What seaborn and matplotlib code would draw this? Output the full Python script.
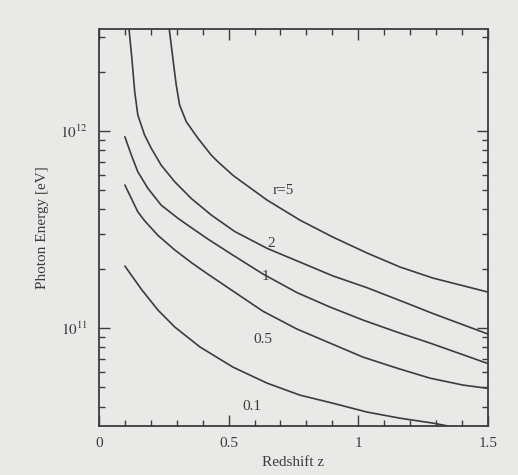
import numpy as np
import pandas as pd
import matplotlib
matplotlib.use("Agg")
import matplotlib.pyplot as plt
import seaborn as sns
from matplotlib.ticker import LogLocator, MultipleLocator, FixedLocator, NullFormatter

# valores (z, log10 da energia em eV)
z_r5 = [0.27, 0.285, 0.298, 0.311, 0.337, 0.382, 0.433, 0.459, 0.517, 0.648, 0.775, 0.902, 1.034, 1.161, 1.288, 1.5]
logE_r5 = [12.53, 12.369, 12.234, 12.132, 12.047, 11.963, 11.878, 11.844, 11.775, 11.65, 11.548, 11.462, 11.381, 11.31, 11.254, 11.183]

z_r2 = [0.115, 0.127, 0.138, 0.15, 0.176, 0.202, 0.24, 0.292, 0.356, 0.433, 0.524, 0.648, 0.775, 0.902, 1.034, 1.161, 1.288, 1.5]
logE_r2 = [12.53, 12.369, 12.199, 12.081, 11.98, 11.912, 11.827, 11.743, 11.658, 11.574, 11.49, 11.405, 11.335, 11.265, 11.205, 11.14, 11.074, 10.97]

z_r1 = [0.10, 0.125, 0.15, 0.189, 0.24, 0.305, 0.356, 0.42, 0.517, 0.632, 0.764, 0.891, 1.018, 1.149, 1.277, 1.496]
logE_r1 = [11.971, 11.878, 11.793, 11.709, 11.624, 11.557, 11.51, 11.452, 11.37, 11.275, 11.18, 11.107, 11.041, 10.98, 10.924, 10.822]

z_r05 = [0.10, 0.125, 0.15, 0.176, 0.228, 0.293, 0.359, 0.42, 0.517, 0.632, 0.764, 0.891, 1.018, 1.149, 1.277, 1.404, 1.496]
logE_r05 = [11.726, 11.658, 11.59, 11.545, 11.47, 11.396, 11.33, 11.274, 11.188, 11.086, 10.995, 10.924, 10.853, 10.797, 10.746, 10.711, 10.695]

z_r01 = [0.10, 0.166, 0.228, 0.293, 0.39, 0.517, 0.648, 0.775, 0.902, 1.034, 1.161, 1.288, 1.431]
logE_r01 = [11.315, 11.193, 11.091, 11.005, 10.904, 10.802, 10.721, 10.66, 10.619, 10.574, 10.543, 10.518, 10.482]

rotulos = ['r=5', '2', '1', '0.5', '0.1']
rotulo_z = [0.71, 0.665, 0.643, 0.632, 0.59]
rotulo_logE = [11.70, 11.43, 11.262, 10.94, 10.60]

#%% montar tabela longa

curvas = [(z_r5, logE_r5), (z_r2, logE_r2), (z_r1, logE_r1), (z_r05, logE_r05), (z_r01, logE_r01)]
partes = []
for nome, (zz, ll) in zip(rotulos, curvas):
    partes.append(pd.DataFrame({'z': zz, 'E': 10 ** np.array(ll), 'r': nome}))
dados = pd.concat(partes, ignore_index=True)

#%% grafico

sns.set_style('ticks')
plt.rcParams['font.family'] = ['Liberation Serif', 'DejaVu Serif']
plt.rcParams['mathtext.fontset'] = 'stix'

fundo = '#e9e9e7'
cor = '#3c3c3c'

fig = plt.figure(figsize=(5.18, 4.75), dpi=100, facecolor=fundo)
ax = fig.add_axes([0.191, 0.103, 0.751, 0.836])
ax.set_facecolor(fundo)

sns.lineplot(data=dados, x='z', y='E', hue='r', palette=[cor] * 5,
             legend=False, linewidth=1.2, sort=False, ax=ax)

ax.set_yscale('log')
ax.set_xlim(0, 1.5)
ax.set_ylim(10 ** 10.503, 10 ** 12.518)

for txt, x, y in zip(rotulos, rotulo_z, rotulo_logE):
    ax.text(x, 10 ** y, txt, fontsize=11, color=cor, ha='center', va='center')

ax.xaxis.set_major_locator(FixedLocator([0, 0.5, 1, 1.5]))
ax.set_xticklabels(['0', '0.5', '1', '1.5'])
ax.xaxis.set_minor_locator(MultipleLocator(0.1))
ax.yaxis.set_major_locator(FixedLocator([1e11, 1e12]))
ax.set_yticklabels([r'$10^{11}$', r'$10^{12}$'])
ax.yaxis.set_minor_locator(LogLocator(base=10, subs=np.arange(2, 10)))
ax.yaxis.set_minor_formatter(NullFormatter())

ax.tick_params(which='both', direction='in', top=True, right=True,
               color=cor, labelcolor=cor, labelsize=11, width=1.0)
ax.tick_params(which='major', length=8, pad=8)
ax.tick_params(which='minor', length=4)
for s in ax.spines.values():
    s.set_color(cor)
    s.set_linewidth(1.3)

ax.set_xlabel('Redshift z', fontsize=11, color=cor, labelpad=4)
ax.set_ylabel('Photon Energy [eV]', fontsize=11, color=cor, labelpad=8)

fig.savefig('out.png', dpi=100, facecolor=fundo)
